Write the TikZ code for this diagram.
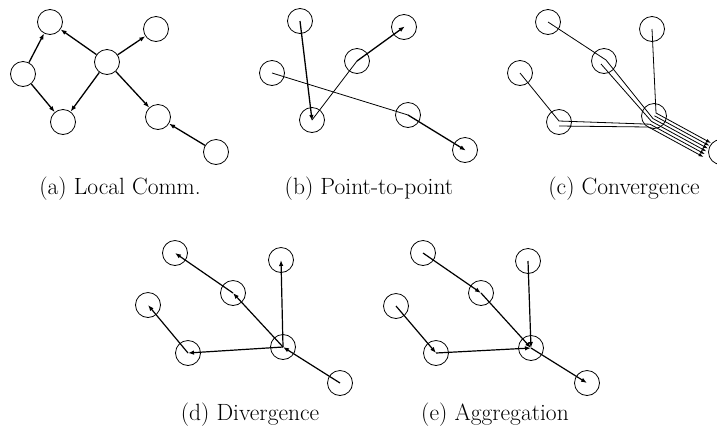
\documentclass[tikz,border=0pt]{standalone}
\usetikzlibrary{arrows.meta,calc}
\begin{document}
\begin{tikzpicture}[x=1pt,y=-1pt,
  nd/.style={circle,draw,line width=0.8pt,minimum size=25pt,inner sep=0pt},
  aarr/.style={-{Latex[length=6pt,width=4.5pt]},line width=1.3pt},
  barr/.style={-{Latex[length=6pt,width=4.5pt]},line width=1.3pt,shorten >=-1pt},
  fline/.style={line width=0.8pt},
  carr/.style={-{Latex[length=5pt,width=3.5pt]},line width=0.8pt},
  darr/.style={-{Latex[length=6pt,width=4.5pt]},line width=1.2pt},
  captxt/.style={font=\fontsize{23.5}{28}\selectfont,anchor=base,inner sep=0pt}]
\useasboundingbox (0,0) rectangle (717,440);
\clip (0,0) rectangle (717,440);
% ---------- (a) Local Comm.
\node[nd] (a1) at (50,22) {};
\node[nd] (a2) at (23,74) {};
\node[nd] (a3) at (63,122) {};
\node[nd] (ah) at (107,62) {};
\node[nd] (a4) at (156,29) {};
\node[nd] (a5) at (158,117) {};
\node[nd] (a6) at (216,152) {};
\draw[aarr] (a2) -- (a1);
\draw[aarr] (a2) -- (a3);
\draw[aarr] (ah) -- (a1);
\draw[aarr] (ah) -- (a3);
\draw[aarr] (ah) -- (a4);
\draw[aarr] (ah) -- (a5);
\draw[aarr] (a6) -- (a5);
\node[captxt] (capa) at (120,194) {(a) Local Comm.};
% ---------- (b) Point-to-point
\node[nd] (b1) at (300,21) {};
\node[nd] (b2) at (272,73) {};
\node[nd] (b3) at (312,120) {};
\node[nd] (b4) at (357,61) {};
\node[nd] (b5) at (404,27) {};
\node[nd] (b6) at (408,115) {};
\node[nd] (b7) at (465,150) {};
\draw[barr] (b1.center) -- (b3.center);
\draw[fline] (b3.center) -- (b4.center);
\draw[barr] (b4.center) -- (b5.center);
\draw[fline] (b2.center) -- (b6.center);
\draw[barr] (b6.center) -- (b7.center);
\node[captxt] (capb) at (369,194) {(b) Point-to-point};
% ---------- (c) Convergence
\node[nd] (c1) at (548,22) {};
\node[nd] (c2) at (520,73) {};
\node[nd] (c3) at (559,122) {};
\node[nd] (c4) at (604,61) {};
\node[nd] (c5) at (652,29) {};
\node[nd] (c6) at (654,116) {};
\node[nd] (c7) at (721,152) {};
\coordinate (h0) at (656,113);   \coordinate (t0) at (711,143);
\coordinate (h1) at (654.5,115.8); \coordinate (t1) at (709.5,145.8);
\coordinate (h2) at (653,118.6); \coordinate (t2) at (708,148.6);
\coordinate (h3) at (651.5,121.4); \coordinate (t3) at (706.5,151.4);
\coordinate (h4) at (650,124.2); \coordinate (t4) at (705,154.2);
\coordinate (h5) at (648.5,127); \coordinate (t5) at (703.5,157);
\coordinate (p1) at (606,60);
\coordinate (p2) at (601,64);
\coordinate (p3) at (559,121);
\coordinate (p4) at (559,126);
\draw[carr] (c5.center) -- (h0) -- (t0);
\draw[carr] (h1) -- (t1);
\draw[carr] (c1.center) -- (p1) -- (h2) -- (t2);
\draw[carr] (p2) -- (h3) -- (t3);
\draw[carr] (c2.center) -- (p3) -- (h4) -- (t4);
\draw[carr] (p4) -- (h5) -- (t5);
\node[captxt] (capc) at (624,194) {(c) Convergence};
% ---------- (d) Divergence
\node[nd] (d1) at (175,253) {};
\node[nd] (d2) at (148,305) {};
\node[nd] (d3) at (188,353) {};
\node[nd] (d4) at (233,293) {};
\node[nd] (d5) at (281,260) {};
\node[nd] (d6) at (283,347) {};
\node[nd] (d7) at (340,383) {};
\draw[darr] (d7.center) -- (d6.center);
\draw[darr] (d6.center) -- (d3.center);
\draw[darr] (d3.center) -- (d2.center);
\draw[darr] (d6.center) -- (d4.center);
\draw[darr] (d4.center) -- (d1.center);
\draw[darr] (d6.center) -- (d5.center);
\node[captxt] (capd) at (250,420) {(d) Divergence};
% ---------- (e) Aggregation
\node[nd] (e1) at (423,253) {};
\node[nd] (e2) at (396,306) {};
\node[nd] (e3) at (436,353) {};
\node[nd] (e4) at (481,293) {};
\node[nd] (e5) at (528,261) {};
\node[nd] (e6) at (531,348) {};
\node[nd] (e7) at (587,383) {};
\draw[darr] (e1.center) -- (e4.center);
\draw[darr] (e4.center) -- (e6.center);
\draw[darr] (e2.center) -- (e3.center);
\draw[darr] (e3.center) -- (e6.center);
\draw[darr] (e5.center) -- (e6.center);
\draw[darr] (e6.center) -- (e7.center);
\node[captxt] (cape) at (495,420) {(e) Aggregation};
\end{tikzpicture}
\end{document}
